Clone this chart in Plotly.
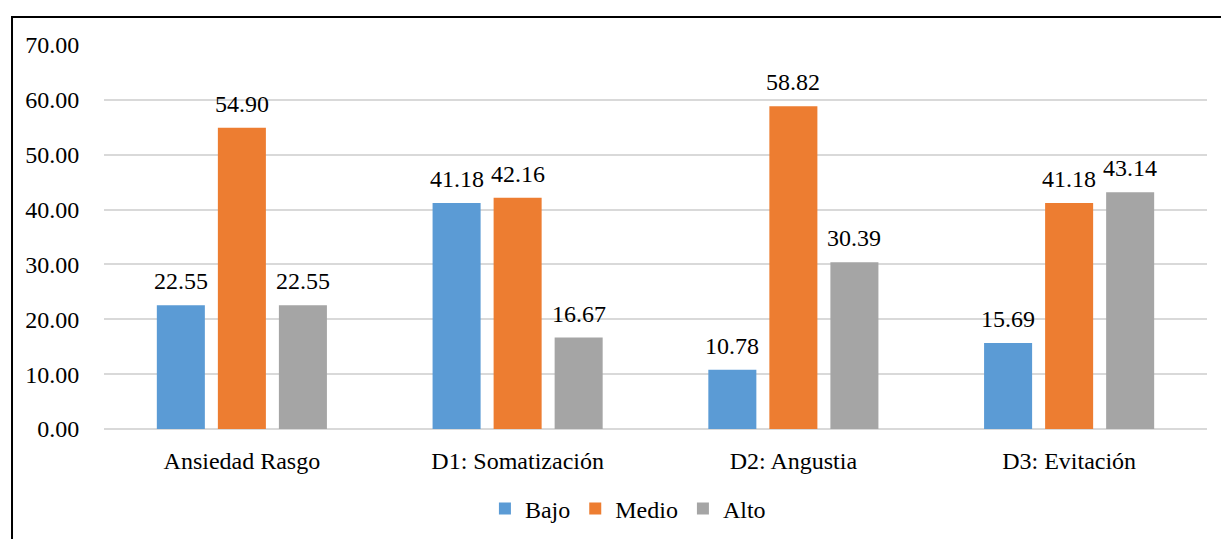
import plotly.graph_objects as go

categories = ["Ansiedad Rasgo", "D1: Somatización", "D2: Angustia", "D3: Evitación"]
series_names = ["Bajo", "Medio", "Alto"]
bajo = [22.55, 41.18, 10.78, 15.69]
medio = [54.90, 42.16, 58.82, 41.18]
alto = [22.55, 16.67, 30.39, 43.14]
y_ticks = [0, 10, 20, 30, 40, 50, 60, 70]

colors = ["#5B9BD5", "#ED7D31", "#A5A5A5"]
FONT = "Liberation Serif"
FS = 24

fig = go.Figure()
for name, vals, col in zip(series_names, [bajo, medio, alto], colors):
    fig.add_trace(go.Bar(x=categories, y=vals, name=name, marker_color=col,
                         marker_line_width=0))

# data labels
for i, vals in enumerate([bajo, medio, alto]):
    for c, v in zip(categories, vals):
        fig.add_annotation(x=c, y=v, text=f"{v:.2f}", showarrow=False,
                           xshift=(i - 1) * 61, yshift=9, yanchor="bottom",
                           font=dict(family=FONT, size=FS, color="black"))

# outer border
fig.add_shape(type="rect", xref="paper", yref="paper",
              x0=-0.0834, x1=1.05, y0=-0.4, y1=1.0729,
              line=dict(color="black", width=2))

fig.update_layout(
    template="none",
    width=1221, height=539,
    margin=dict(l=104, r=14, t=45, b=110),
    plot_bgcolor="white", paper_bgcolor="white",
    barmode="group", bargap=0.336, bargroupgap=0.213,
    font=dict(family=FONT, size=FS, color="black"),
    showlegend=True,
    legend=dict(orientation="h", x=0.475, xanchor="center",
                yref="container", y=0.056, yanchor="middle",
                font=dict(family=FONT, size=FS, color="black")),
    xaxis=dict(showgrid=False, showline=False, ticks="outside", ticklen=10,
               tickcolor="rgba(0,0,0,0)", automargin=False,
               tickfont=dict(family=FONT, size=FS, color="black")),
    yaxis=dict(range=[0, 70], tickvals=y_ticks, tickformat=".2f",
               showgrid=True, gridcolor="#D9D9D9", gridwidth=1.5,
               zeroline=True, zerolinecolor="#D9D9D9", zerolinewidth=1.5,
               showline=False, ticks="outside", ticklen=19,
               tickcolor="rgba(0,0,0,0)", automargin=False,
               tickfont=dict(family=FONT, size=FS, color="black")),
)

fig.write_html("out.html")
